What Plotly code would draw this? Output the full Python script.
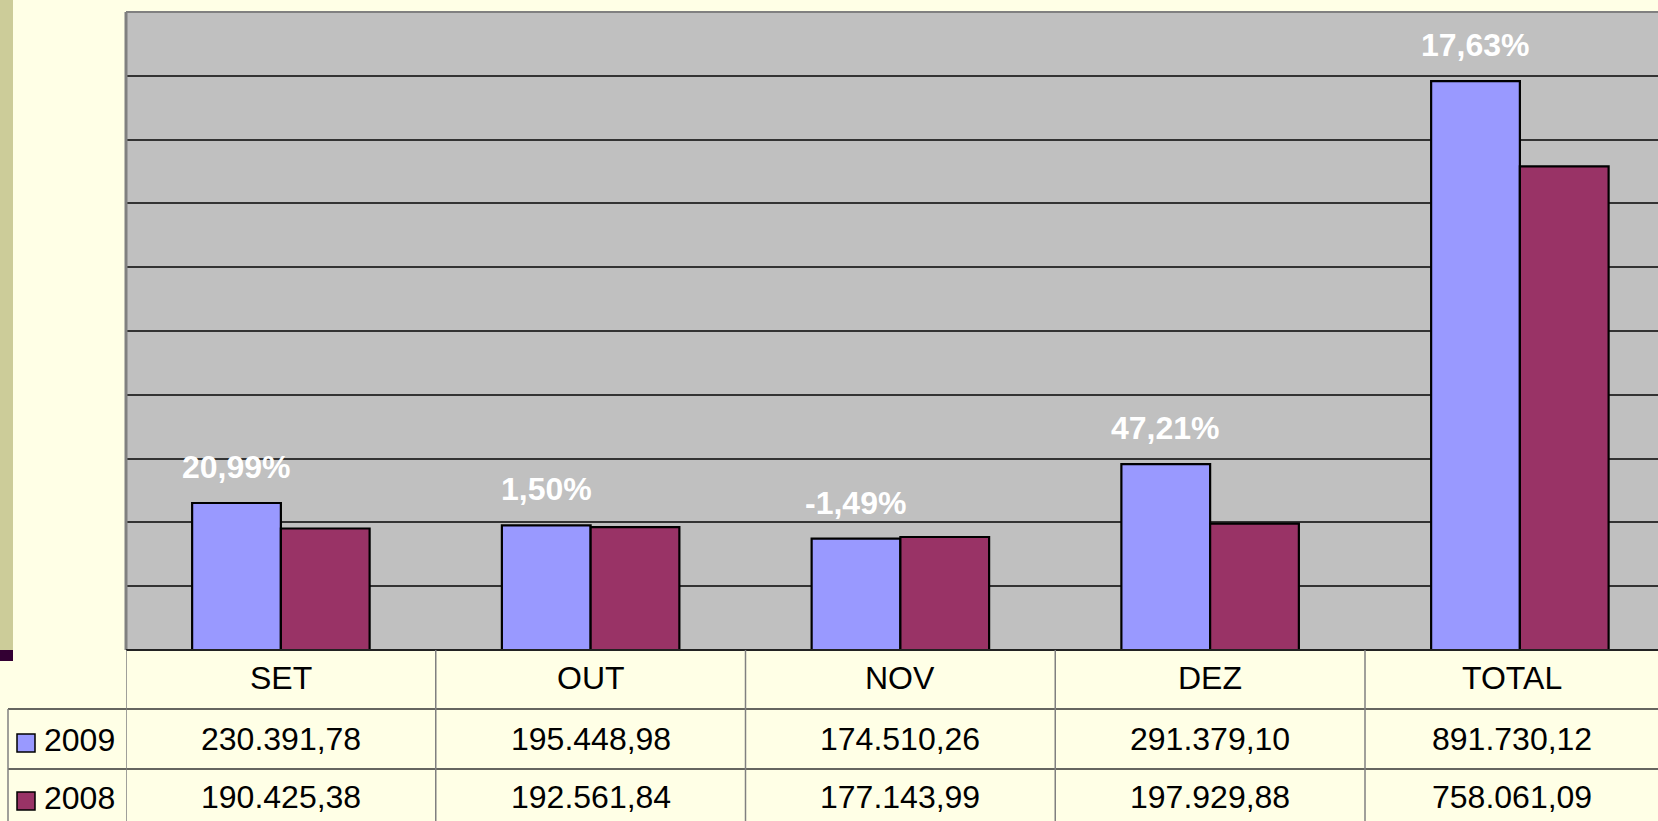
import plotly.graph_objects as go

categories = ["SET", "OUT", "NOV", "DEZ", "TOTAL"]
series_names = ["2009", "2008"]
values_2009 = [230391.78, 195448.98, 174510.26, 291379.10, 891730.12]
values_2008 = [190425.38, 192561.84, 177143.99, 197929.88, 758061.09]
pct_labels = ["20,99%", "1,50%", "-1,49%", "47,21%", "17,63%"]
colors = ["#9999FF", "#993366"]

W, H = 1658, 821
FONT = "Liberation Sans, Arial, sans-serif"

# layout geometry (pixels)
plot_left, plot_top, plot_bottom = 126, 12, 650
col_w = 309.75
xmax = (W - plot_left) / col_w - 0.5
row1, row2 = 709, 769
leg_left = 8


def px(x):
    return x / W


def py(y):
    return 1 - y / H


def fmt(v):
    s = f"{v:,.2f}"
    return s.replace(",", "X").replace(".", ",").replace("X", ".")


fig = go.Figure()
for name, vals, col in zip(series_names, [values_2009, values_2008], colors):
    fig.add_trace(go.Bar(
        x=categories, y=vals, name=name,
        marker=dict(color=col, line=dict(color="black", width=2.2)),
        hoverinfo="skip",
    ))

shapes = []
annotations = []

# left decorative stripe
shapes.append(dict(type="rect", xref="paper", yref="paper", x0=0, x1=px(13),
                   y0=py(plot_bottom), y1=1, fillcolor="#CCCC99", line=dict(width=0), layer="below"))
shapes.append(dict(type="rect", xref="paper", yref="paper", x0=0, x1=px(13),
                   y0=py(661), y1=py(plot_bottom), fillcolor="#330033", line=dict(width=0), layer="below"))

# plot borders
shapes.append(dict(type="line", xref="paper", yref="paper", x0=px(plot_left), x1=1,
                   y0=py(plot_top), y1=py(plot_top), line=dict(color="#808080", width=2)))
shapes.append(dict(type="line", xref="paper", yref="paper", x0=px(plot_left), x1=px(plot_left),
                   y0=py(plot_bottom), y1=py(plot_top), line=dict(color="#808080", width=3)))
shapes.append(dict(type="line", xref="paper", yref="paper", x0=px(plot_left), x1=1,
                   y0=py(plot_bottom), y1=py(plot_bottom), line=dict(color="#222222", width=2)))

# table lines
for yy in (row1, row2):
    shapes.append(dict(type="line", xref="paper", yref="paper", x0=px(leg_left), x1=1,
                       y0=py(yy), y1=py(yy), line=dict(color="#333333", width=1.5)))
shapes.append(dict(type="line", xref="paper", yref="paper", x0=px(leg_left), x1=px(leg_left),
                   y0=0, y1=py(row1), line=dict(color="#808080", width=1.5)))
for i in range(len(categories)):
    xb = i - 0.5
    shapes.append(dict(type="line", xref="x", yref="paper", x0=xb, x1=xb,
                       y0=0, y1=py(plot_bottom), line=dict(color="#808080", width=1.5)))

# table text
row_centers = [678, 739, 797]
tfont = dict(family=FONT, size=32, color="black")
for i, cat in enumerate(categories):
    xc = (i - 0.5 + min(i + 0.5, xmax)) / 2
    for yc, txt in zip(row_centers, [cat, fmt(values_2009[i]), fmt(values_2008[i])]):
        annotations.append(dict(x=xc, y=py(yc), xref="x", yref="paper", text=txt,
                                xanchor="center", yanchor="middle",
                                showarrow=False, font=tfont))

# legend keys
for name, col, yc in zip(series_names, colors, [743, 801]):
    shapes.append(dict(type="rect", xref="paper", yref="paper", x0=px(17), x1=px(35),
                       y0=py(yc + 9), y1=py(yc - 9), fillcolor=col, line=dict(color="black", width=1.5)))
    annotations.append(dict(x=px(42), y=py(yc - 3), xref="paper", yref="paper", text=name,
                            xanchor="left", yanchor="middle",
                            showarrow=False, font=tfont))

# percentage labels above 2009 bars
bar_w_px = 0.2867 * col_w
for cat, v, lab in zip(categories, values_2009, pct_labels):
    annotations.append(dict(x=cat, y=v, xref="x", yref="y", text=f"<b>{lab}</b>",
                            showarrow=False, xshift=-bar_w_px / 2, yshift=36,
                            xanchor="center", yanchor="middle",
                            font=dict(family=FONT, size=32, color="white")))

fig.update_layout(
    width=W, height=H,
    margin=dict(l=0, r=0, t=0, b=0),
    paper_bgcolor="#FFFFE6",
    plot_bgcolor="#C0C0C0",
    barmode="group", bargap=0.427, bargroupgap=0,
    showlegend=False,
    xaxis=dict(domain=[px(plot_left), 1], range=[-0.5, xmax], showticklabels=False,
               showgrid=False, zeroline=False, showline=False, ticks=""),
    yaxis=dict(domain=[py(plot_bottom), py(plot_top)], range=[0, 1000000], dtick=100000,
               showticklabels=False, showgrid=True, gridcolor="#333333", gridwidth=1.5,
               zeroline=False, showline=False, ticks=""),
    shapes=shapes,
    annotations=annotations,
)

fig.write_html("out.html", config={"displayModeBar": False},
               post_script="document.body.style.margin='0';document.body.style.overflow='hidden';")
